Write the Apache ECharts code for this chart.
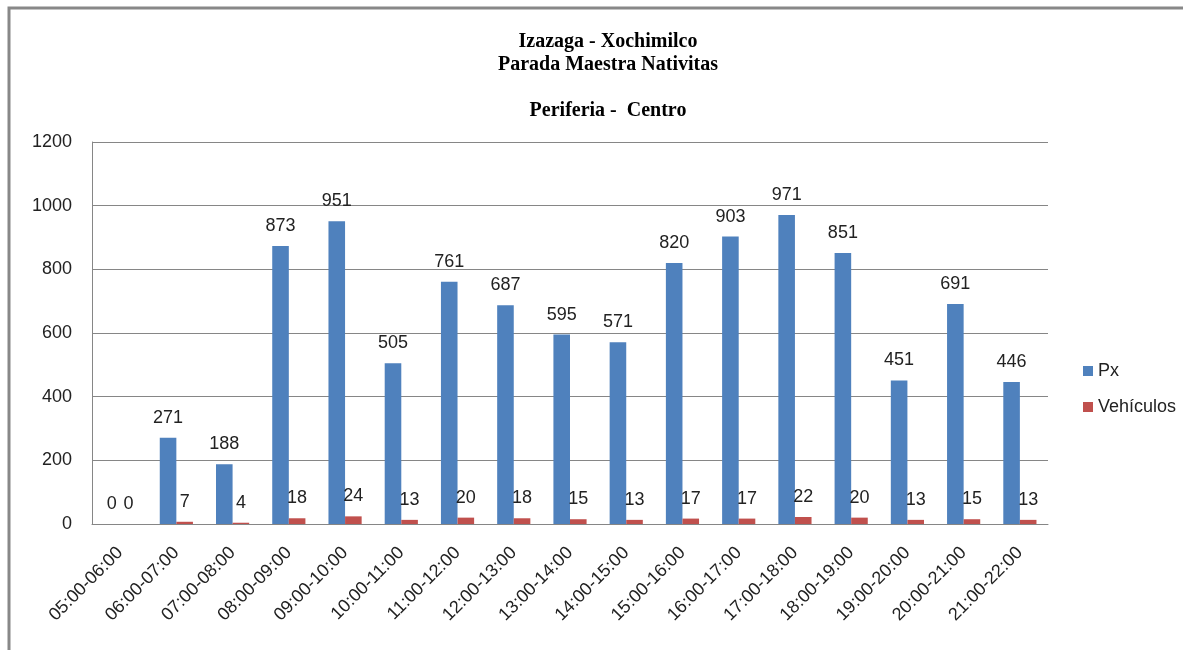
<!DOCTYPE html>
<html>
<head>
<meta charset="utf-8">
<script src="https://cdn.jsdelivr.net/npm/echarts@6/dist/echarts.min.js"></script>
<style>
  html, body { margin: 0; padding: 0; background: #fff; }
  #chart { width: 1183px; height: 650px; }
</style>
</head>
<body>
<div id="chart"></div>
<script>
var categories = ['05:00-06:00', '06:00-07:00', '07:00-08:00', '08:00-09:00', '09:00-10:00',
    '10:00-11:00', '11:00-12:00', '12:00-13:00', '13:00-14:00', '14:00-15:00', '15:00-16:00',
    '16:00-17:00', '17:00-18:00', '18:00-19:00', '19:00-20:00', '20:00-21:00', '21:00-22:00'];
var px = [0, 271, 188, 873, 951, 505, 761, 687, 595, 571, 820, 903, 971, 851, 451, 691, 446];
var vehiculos = [0, 7, 4, 18, 24, 13, 20, 18, 15, 13, 17, 17, 22, 20, 13, 15, 13];
var yTicks = [0, 200, 400, 600, 800, 1000, 1200];

var sansFont = '"Liberation Sans", "DejaVu Sans", sans-serif';
var chart = echarts.init(document.getElementById('chart'));

var option = {
    animation: false,
    backgroundColor: '#fff',
    title: {
        text: 'Izazaga - Xochimilco\nParada Maestra Nativitas\n\nPeriferia -  Centro',
        left: 603,
        top: 25,
        textAlign: 'center',
        textStyle: {
            fontFamily: '"Liberation Serif", "DejaVu Serif", serif',
            fontWeight: 'bold',
            fontSize: 20,
            lineHeight: 23,
            color: '#000'
        }
    },
    graphic: [{
        type: 'rect',
        shape: { x: 9, y: 8, width: 1300, height: 800 },
        style: { fill: 'none', stroke: '#888', lineWidth: 3 },
        silent: true
    }],
    legend: {
        orient: 'vertical',
        left: 1078,
        top: 357,
        itemWidth: 10,
        itemHeight: 10,
        itemGap: 18,
        icon: 'rect',
        textStyle: { fontFamily: sansFont, fontSize: 18, color: '#222' },
        data: ['Px', 'Vehículos']
    },
    grid: { left: 92, right: 135, top: 142, bottom: 126 },
    xAxis: {
        type: 'category',
        data: categories,
        axisLine: { lineStyle: { color: '#868686', width: 1 } },
        axisTick: { show: false },
        axisLabel: {
            rotate: 45,
            interval: 0,
            margin: 26,
            fontFamily: sansFont,
            fontSize: 18,
            color: '#222'
        }
    },
    yAxis: {
        type: 'value',
        min: yTicks[0],
        max: yTicks[yTicks.length - 1],
        interval: 200,
        axisLine: { show: true, lineStyle: { color: '#868686', width: 1 } },
        axisTick: { show: false },
        splitLine: { lineStyle: { color: '#868686', width: 1 } },
        axisLabel: {
            margin: 20,
            fontFamily: sansFont,
            fontSize: 18,
            color: '#222',
            formatter: function (v) { return String(v); }
        }
    },
    series: [{
        name: 'Px',
        type: 'bar',
        data: px,
        barGap: '0%',
        barCategoryGap: '41%',
        itemStyle: { color: '#4F81BD' },
        label: {
            show: true,
            position: 'top',
            distance: 11,
            fontFamily: sansFont,
            fontSize: 18,
            color: '#222'
        }
    }, {
        name: 'Vehículos',
        type: 'bar',
        data: vehiculos,
        itemStyle: { color: '#C0504D' },
        label: {
            show: true,
            position: 'top',
            distance: 11,
            fontFamily: sansFont,
            fontSize: 18,
            color: '#222'
        }
    }]
};
chart.setOption(option);
</script>
</body>
</html>
